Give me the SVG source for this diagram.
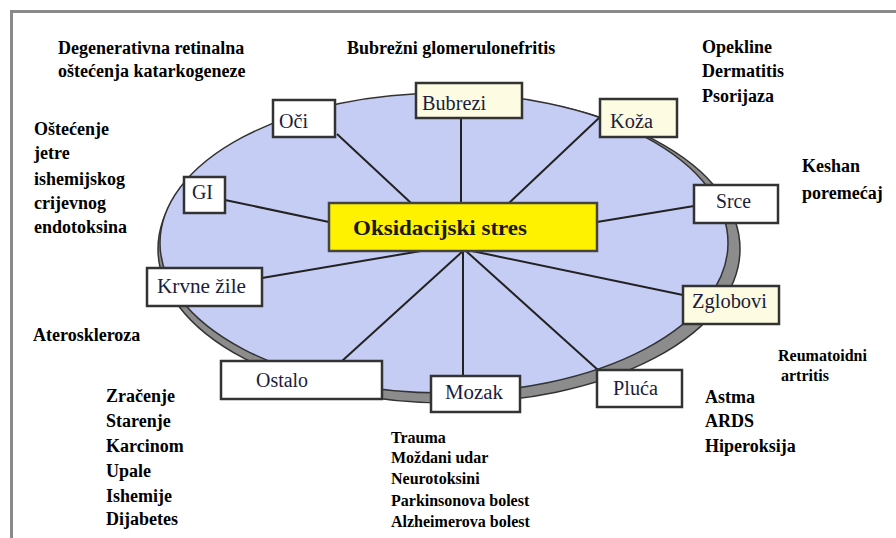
<svg xmlns="http://www.w3.org/2000/svg" width="896" height="538" viewBox="0 0 896 538">
<defs>
<ellipse id="disc" cx="444" cy="243" rx="284" ry="150"/>
</defs>
<rect width="896" height="538" fill="#ffffff"/>
<path d="M11.5,538 V11.5 H896" fill="none" stroke="#8a8a8a" stroke-width="3"/>
<g id="ellipse" stroke="#333333" stroke-width="1.5">
<ellipse cx="449" cy="249" rx="291" ry="154" fill="#8c8c8c"/>
<use href="#disc" fill="#c6cdf4"/>
</g>
<g id="connectors" stroke="#222222" stroke-width="2" fill="none">
<line x1="337" y1="134" x2="411" y2="203"/>
<line x1="461" y1="118" x2="461" y2="203"/>
<line x1="600" y1="117" x2="509" y2="203"/>
<line x1="694" y1="206" x2="597" y2="222"/>
<line x1="225" y1="200" x2="329" y2="222"/>
<line x1="262" y1="278" x2="421" y2="251"/>
<line x1="342" y1="361" x2="463" y2="251"/>
<line x1="463" y1="376" x2="463" y2="251"/>
<line x1="598" y1="370" x2="466" y2="251"/>
<line x1="683" y1="295" x2="472" y2="251"/>
</g>
<g id="center">
<rect x="329" y="203" width="268" height="48" fill="#fff200" stroke="#444444" stroke-width="2.5"/>
<text font-family="Liberation Serif" font-size="21" font-weight="bold" fill="#1a1a1a" x="353" y="235" textLength="174" lengthAdjust="spacingAndGlyphs">Oksidacijski stres</text>
</g>
<g stroke="#333333" stroke-width="2.5" fill="#ffffff">
<g id="oci">
<rect x="273" y="100" width="62" height="37"/>
<text font-family="Liberation Serif" font-size="20" fill="#1c1c3c" stroke="none" x="279" y="128" textLength="29" lengthAdjust="spacingAndGlyphs">Oči</text>
</g>
<g id="bubrezi">
<rect x="416" y="83" width="106" height="35" fill="#fdfbe2"/>
<text font-family="Liberation Serif" font-size="20" fill="#1c1c3c" stroke="none" x="422" y="110" textLength="64" lengthAdjust="spacingAndGlyphs">Bubrezi</text>
</g>
<g id="koza">
<rect x="600" y="99" width="77" height="38" fill="#fdfbe2"/>
<text font-family="Liberation Serif" font-size="20" fill="#1c1c3c" stroke="none" x="610" y="128" textLength="43" lengthAdjust="spacingAndGlyphs">Koža</text>
</g>
<g id="srce">
<rect x="694" y="185" width="84" height="38"/>
<text font-family="Liberation Serif" font-size="20" fill="#1c1c3c" stroke="none" x="716" y="208" textLength="35" lengthAdjust="spacingAndGlyphs">Srce</text>
</g>
<g id="gi">
<rect x="184" y="177" width="41" height="36"/>
<text font-family="Liberation Serif" font-size="20" fill="#1c1c3c" stroke="none" x="192" y="199" textLength="21" lengthAdjust="spacingAndGlyphs">GI</text>
</g>
<g id="krvne-zile">
<rect x="147" y="268" width="115" height="38"/>
<text font-family="Liberation Serif" font-size="20" fill="#1c1c3c" stroke="none" x="157" y="293" textLength="89" lengthAdjust="spacingAndGlyphs">Krvne žile</text>
</g>
<g id="ostalo">
<rect x="221" y="361" width="161" height="38"/>
<text font-family="Liberation Serif" font-size="20" fill="#1c1c3c" stroke="none" x="256" y="387" textLength="52" lengthAdjust="spacingAndGlyphs">Ostalo</text>
</g>
<g id="mozak">
<rect x="431" y="376" width="89" height="36"/>
<text font-family="Liberation Serif" font-size="20" fill="#1c1c3c" stroke="none" x="445" y="399" textLength="58" lengthAdjust="spacingAndGlyphs">Mozak</text>
</g>
<g id="pluca">
<rect x="597" y="370" width="85" height="37"/>
<text font-family="Liberation Serif" font-size="20" fill="#1c1c3c" stroke="none" x="613" y="395" textLength="45" lengthAdjust="spacingAndGlyphs">Pluća</text>
</g>
<g id="zglobovi">
<rect x="683" y="286" width="96" height="38" fill="#fdfbe2"/>
<text font-family="Liberation Serif" font-size="20" fill="#1c1c3c" stroke="none" x="692" y="308" textLength="75" lengthAdjust="spacingAndGlyphs">Zglobovi</text>
</g>
</g>
<g id="annotations" fill="#000000">
<text font-family="Liberation Serif" font-size="18" font-weight="bold" x="58" y="54">Degenerativna retinalna</text>
<text font-family="Liberation Serif" font-size="18" font-weight="bold" x="58" y="77">oštećenja katarkogeneze</text>
<text font-family="Liberation Serif" font-size="18" font-weight="bold" x="347" y="54">Bubrežni glomerulonefritis</text>
<text font-family="Liberation Serif" font-size="18" font-weight="bold" x="702" y="53">Opekline</text>
<text font-family="Liberation Serif" font-size="18" font-weight="bold" x="702" y="77">Dermatitis</text>
<text font-family="Liberation Serif" font-size="18" font-weight="bold" x="702" y="102">Psorijaza</text>
<text font-family="Liberation Serif" font-size="18" font-weight="bold" x="802" y="172">Keshan</text>
<text font-family="Liberation Serif" font-size="18" font-weight="bold" x="802" y="199">poremećaj</text>
<text font-family="Liberation Serif" font-size="18" font-weight="bold" x="34" y="135">Oštećenje</text>
<text font-family="Liberation Serif" font-size="18" font-weight="bold" x="34" y="159">jetre</text>
<text font-family="Liberation Serif" font-size="18" font-weight="bold" x="34" y="185">ishemijskog</text>
<text font-family="Liberation Serif" font-size="18" font-weight="bold" x="34" y="209">crijevnog</text>
<text font-family="Liberation Serif" font-size="18" font-weight="bold" x="34" y="233">endotoksina</text>
<text font-family="Liberation Serif" font-size="18" font-weight="bold" x="33" y="341">Ateroskleroza</text>
<text font-family="Liberation Serif" font-size="18" font-weight="bold" x="106" y="402">Zračenje</text>
<text font-family="Liberation Serif" font-size="18" font-weight="bold" x="106" y="427">Starenje</text>
<text font-family="Liberation Serif" font-size="18" font-weight="bold" x="106" y="452">Karcinom</text>
<text font-family="Liberation Serif" font-size="18" font-weight="bold" x="106" y="477">Upale</text>
<text font-family="Liberation Serif" font-size="18" font-weight="bold" x="106" y="502">Ishemije</text>
<text font-family="Liberation Serif" font-size="18" font-weight="bold" x="106" y="525">Dijabetes</text>
<text font-family="Liberation Serif" font-size="16" font-weight="bold" x="391" y="443">Trauma</text>
<text font-family="Liberation Serif" font-size="16" font-weight="bold" x="391" y="463">Moždani udar</text>
<text font-family="Liberation Serif" font-size="16" font-weight="bold" x="391" y="484">Neurotoksini</text>
<text font-family="Liberation Serif" font-size="16" font-weight="bold" x="391" y="506">Parkinsonova bolest</text>
<text font-family="Liberation Serif" font-size="16" font-weight="bold" x="391" y="527">Alzheimerova bolest</text>
<text font-family="Liberation Serif" font-size="16" font-weight="bold" x="778" y="361">Reumatoidni</text>
<text font-family="Liberation Serif" font-size="16" font-weight="bold" x="781" y="381">artritis</text>
<text font-family="Liberation Serif" font-size="18" font-weight="bold" x="705" y="403">Astma</text>
<text font-family="Liberation Serif" font-size="18" font-weight="bold" x="705" y="427">ARDS</text>
<text font-family="Liberation Serif" font-size="18" font-weight="bold" x="705" y="452">Hiperoksija</text>
</g>
</svg>
